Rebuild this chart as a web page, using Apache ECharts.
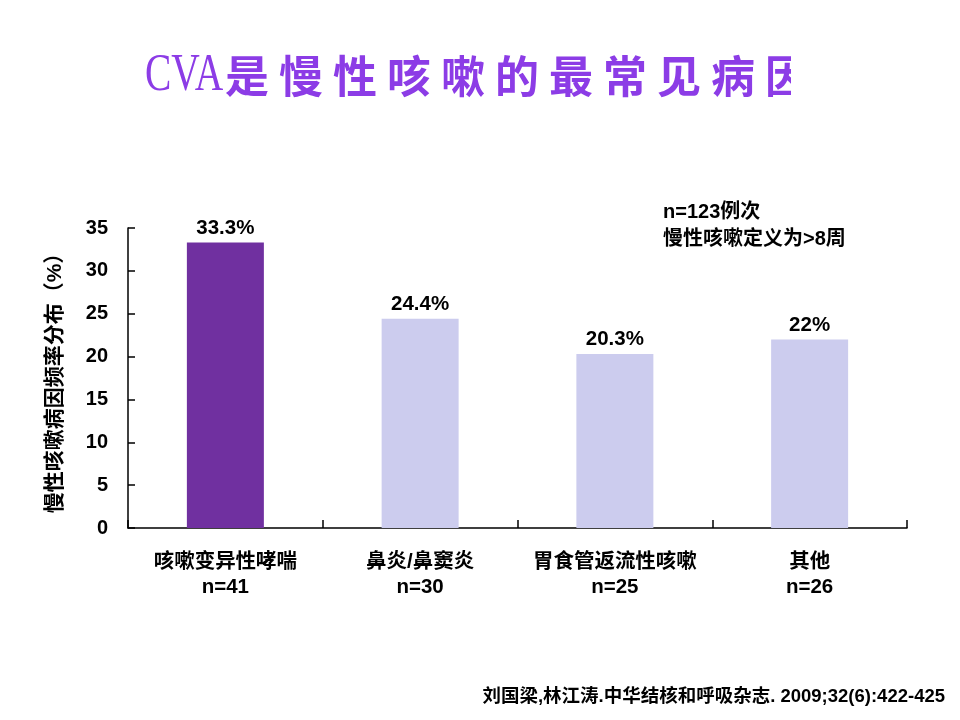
<!DOCTYPE html>
<html>
<head>
<meta charset="utf-8">
<script src="https://cdn.jsdelivr.net/npm/echarts@6/dist/echarts.min.js"></script>
<style>
html,body{margin:0;padding:0;background:#fff;}
#c{width:960px;height:720px;}
</style>
</head>
<body>
<div id="c"></div>
<script>
const categories = ['咳嗽变异性哮喘', '鼻炎/鼻窦炎', '胃食管返流性咳嗽', '其他'];
const counts = ['n=41', 'n=30', 'n=25', 'n=26'];
const values = [33.3, 24.4, 20.3, 22];
const valueLabels = ['33.3%', '24.4%', '20.3%', '22%'];
const barColors = ['#7030A0', '#CCCCEE', '#CCCCEE', '#CCCCEE'];
const yTicks = { min: 0, max: 35, interval: 5 };
const titleLatin = 'CVA';
const titleChinese = '是慢性咳嗽的最常见病因';
const yAxisName = '慢性咳嗽病因频率分布（%）';
const noteLines = ['n=123例次', '慢性咳嗽定义为>8周'];
const footer = '刘国梁,林江涛.中华结核和呼吸杂志. 2009;32(6):422-425';

const FONT = '"Liberation Sans", Arial, "Noto Sans CJK SC", sans-serif';
const TITLE_COLOR = '#8C3CE6';

const chart = echarts.init(document.getElementById('c'), null, { renderer: 'canvas' });

const richTitle = titleChinese.split('').map(ch => '{c|' + ch + '}').join('');

const option = {
  backgroundColor: '#ffffff',
  animation: false,
  grid: { left: 128, right: 53, top: 228, bottom: 192, containLabel: false },
  xAxis: {
    type: 'category',
    data: categories.map((c, i) => c + '\n' + counts[i]),
    axisLine: { lineStyle: { color: '#000', width: 1.5 } },
    axisTick: { show: true, inside: true, length: 8, lineStyle: { color: '#000', width: 1.5 } },
    axisLabel: {
      color: '#000', fontFamily: FONT, fontWeight: 'bold', fontSize: 20.5,
      lineHeight: 25, margin: 22, interval: 0
    },
    splitLine: { show: false }
  },
  yAxis: {
    type: 'value',
    min: yTicks.min, max: yTicks.max, interval: yTicks.interval,
    name: yAxisName,
    nameLocation: 'middle',
    nameRotate: 90,
    nameGap: 62,
    nameTextStyle: { color: '#000', fontFamily: FONT, fontWeight: 'bold', fontSize: 21 },
    axisLine: { show: true, lineStyle: { color: '#000', width: 1.5 } },
    axisTick: { show: true, inside: true, length: 7, lineStyle: { color: '#000', width: 1.5 } },
    axisLabel: { color: '#000', fontFamily: FONT, fontWeight: 'bold', fontSize: 20, margin: 20 },
    splitLine: { show: false }
  },
  series: [{
    type: 'bar',
    barWidth: 77,
    data: values.map((v, i) => ({ value: v, itemStyle: { color: barColors[i] } })),
    label: {
      show: true, position: 'top', distance: 4,
      color: '#000', fontFamily: FONT, fontWeight: 'bold', fontSize: 20.5,
      formatter: p => valueLabels[p.dataIndex]
    }
  }],
  graphic: [
    {
      type: 'text', left: 145, top: 50, z: 10,
      scaleX: 0.76, originX: 0, originY: 0,
      style: { text: titleLatin, font: '52px "Liberation Serif", "Times New Roman", serif', fill: TITLE_COLOR }
    },
    {
      type: 'text', x: 220, y: 76, z: 10,
      style: {
        text: richTitle, verticalAlign: 'middle', align: 'left',
        rich: { c: { width: 54, align: 'center', fontSize: 44, fontWeight: 'bold', fontFamily: '"Noto Sans CJK SC", sans-serif', fill: TITLE_COLOR, color: TITLE_COLOR } }
      }
    },
    {
      type: 'rect', z: 20, shape: { x: 791, y: 40, width: 80, height: 70 },
      style: { fill: '#ffffff' }
    },
    {
      type: 'text', x: 663, y: 212, z: 10,
      style: { text: noteLines[0], verticalAlign: 'middle', font: 'bold 20px ' + FONT, fill: '#000' }
    },
    {
      type: 'text', x: 663, y: 239, z: 10,
      style: { text: noteLines[1], verticalAlign: 'middle', font: 'bold 20px ' + FONT, fill: '#000' }
    },
    {
      type: 'text', x: 945, y: 697, z: 10,
      style: { text: footer, align: 'right', verticalAlign: 'middle', font: 'bold 18.5px ' + FONT, fill: '#000' }
    }
  ]
};
chart.setOption(option);
</script>
</body>
</html>
